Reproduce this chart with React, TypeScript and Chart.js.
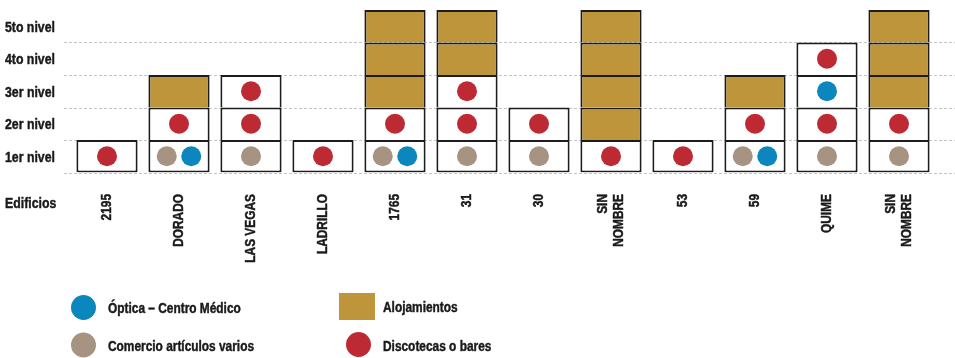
import React, { useEffect, useRef } from 'react';
import { Chart, registerables } from 'chart.js';
Chart.register(...registerables);

// ---------- DATA ----------
const edificios: (string | string[])[] = [
  '2195', 'DORADO', 'LAS VEGAS', 'LADRILLO', '1765', '31', '30',
  ['SIN', 'NOMBRE'], '53', '59', 'QUIME', ['SIN', 'NOMBRE'],
];
const nivelLabels = ['1er nivel', '2er nivel', '3er nivel', '4to nivel', '5to nivel'];
// number of floors per building
const pisos = [1, 3, 3, 1, 5, 5, 2, 5, 1, 3, 4, 5];
// floors holding each use
const alojamientos: number[][] = [[], [3], [], [], [3, 4, 5], [4, 5], [], [2, 3, 4, 5], [], [3], [], [3, 4, 5]];
const discotecas: number[][] = [[1], [2], [2, 3], [1], [2], [2, 3], [2], [1], [1], [2], [2, 4], [2]];
const comercio: number[][] = [[], [1], [1], [], [1], [1], [1], [], [], [1], [1], [1]];
const optica: number[][] = [[], [1], [], [], [1], [], [], [], [], [1], [3], []];

const legendOptica = 'Óptica – Centro Médico';
const legendComercio = 'Comercio artículos varios';
const legendAloj = 'Alojamientos';
const legendDisco = 'Discotecas o bares';
const axisTitle = 'Edificios';

// ---------- STYLE ----------
const GOLD = '#BE953B';
const RED = '#BE2A33';
const BLUE = '#0B87BD';
const GREY = '#A69381';
const BORDER = '#1c1c1c';
const TEXT = '#1a1a1a';
const FONT = '"Liberation Sans", Arial, sans-serif';
const NARROW = 0.82; // horizontal condensing to mimic a narrow typeface
const PAIR = 0.17;

function dotData(levels: number[][], other: number[][] | null, sign: number) {
  const out: { x: number; y: number }[] = [];
  levels.forEach((lv, i) => {
    lv.forEach((L) => {
      const shared = !!other && (other[i] || []).includes(L);
      out.push({ x: i + (shared ? sign * PAIR : 0), y: L - 0.5 });
    });
  });
  return out;
}

function drawTxt(ctx: CanvasRenderingContext2D, text: string) {
  ctx.fillText(text, 0, 0);
  ctx.strokeText(text, 0, 0);
}

function narrowText(ctx: CanvasRenderingContext2D, text: string, x: number, y: number) {
  ctx.save();
  ctx.translate(x, y);
  ctx.scale(NARROW, 1);
  drawTxt(ctx, text);
  ctx.restore();
}

const overlayPlugin = {
  id: 'overlay',
  beforeDatasetsDraw(chart: any) {
    const { ctx, scales } = chart;
    const y = scales.y;
    ctx.save();
    ctx.strokeStyle = '#c4c4c4';
    ctx.lineWidth = 1;
    ctx.setLineDash([3, 2]);
    for (let v = 0; v <= 4; v++) {
      const py = Math.round(y.getPixelForValue(v)) + 0.5;
      ctx.beginPath();
      ctx.moveTo(chart.chartArea.left - 7, py);
      ctx.lineTo(chart.width, py);
      ctx.stroke();
    }
    ctx.restore();
  },
  afterDraw(chart: any) {
    const { ctx, scales } = chart;
    const xs = scales.x;
    const ys = scales.y;
    ctx.save();
    ctx.fillStyle = TEXT;
    ctx.strokeStyle = TEXT;
    ctx.lineWidth = 0.45;
    ctx.lineJoin = 'round';
    ctx.textBaseline = 'middle';
    ctx.textAlign = 'left';

    // y-axis level labels
    ctx.font = `bold 15px ${FONT}`;
    nivelLabels.forEach((lab, k) => {
      narrowText(ctx, lab, 5, ys.getPixelForValue(k + 0.5) + 1.5);
    });
    // axis title
    narrowText(ctx, axisTitle, 5, 204);

    // x-axis building labels (rotated)
    ctx.font = `bold 14.5px ${FONT}`;
    const lh = 16;
    edificios.forEach((lab, i) => {
      const lines = Array.isArray(lab) ? lab : [lab];
      const px = xs.getPixelForValue(i);
      lines.forEach((ln, j) => {
        const cx = px + (j - (lines.length - 1) / 2) * lh;
        ctx.save();
        ctx.translate(cx, 194);
        ctx.rotate(-Math.PI / 2);
        ctx.scale(NARROW, 1);
        ctx.textAlign = 'right';
        drawTxt(ctx, ln);
        ctx.restore();
      });
    });

    // legend
    const circle = (cx: number, cy: number, c: string) => {
      ctx.beginPath();
      ctx.arc(cx, cy, 12.5, 0, Math.PI * 2);
      ctx.fillStyle = c;
      ctx.fill();
    };
    circle(83.5, 307.5, BLUE);
    circle(83.5, 345, GREY);
    circle(358.5, 344.5, RED);
    ctx.fillStyle = GOLD;
    ctx.fillRect(339, 293, 36, 27);

    ctx.fillStyle = TEXT;
    ctx.font = `bold 14.5px ${FONT}`;
    narrowText(ctx, legendOptica, 108, 309);
    narrowText(ctx, legendComercio, 108, 347);
    narrowText(ctx, legendAloj, 383, 308);
    narrowText(ctx, legendDisco, 383, 346.5);
    ctx.restore();
  },
};

export default function App() {
  const ref = useRef<HTMLCanvasElement | null>(null);
  useEffect(() => {
    document.body.style.margin = '0';
    if (!ref.current) return;

    const barSets = [1, 2, 3, 4, 5].map((L) => ({
      type: 'bar' as const,
      label: `Nivel ${L}`,
      data: pisos.map((p) => (p >= L ? [L - 1, L] : null)),
      backgroundColor: pisos.map((_, i) => (alojamientos[i].includes(L) ? GOLD : '#ffffff')),
      borderColor: BORDER,
      borderWidth: 2,
      borderSkipped: L === 1 ? false : 'bottom',
      grouped: false,
      inflateAmount: 0,
      barPercentage: 0.85,
      categoryPercentage: 1,
      order: 2,
      xAxisID: 'x',
      yAxisID: 'y',
    }));

    const mk = (label: string, data: any[], color: string) => ({
      type: 'scatter' as const,
      label,
      data,
      pointRadius: 10,
      pointHoverRadius: 10,
      pointBackgroundColor: color,
      pointBorderWidth: 0,
      borderWidth: 0,
      showLine: false,
      order: 1,
      xAxisID: 'xd',
      yAxisID: 'y',
    });

    const chart = new Chart(ref.current, {
      data: {
        labels: edificios,
        datasets: [
          ...barSets,
          mk(legendDisco, dotData(discotecas, null, 0), RED),
          mk(legendComercio, dotData(comercio, optica, -1), GREY),
          mk(legendOptica, dotData(optica, comercio, 1), BLUE),
        ] as any,
      },
      options: {
        animation: false,
        responsive: false,
        events: [],
        layout: { padding: { top: 6, left: 71, right: 20, bottom: 185.5 } },
        plugins: { legend: { display: false }, tooltip: { enabled: false } },
        scales: {
          x: { type: 'category', offset: true, display: false },
          xd: { type: 'linear', display: false, min: -0.5, max: 11.5 },
          y: { type: 'linear', display: false, min: 0, max: 5 },
        },
      } as any,
      plugins: [overlayPlugin],
    });
    return () => chart.destroy();
  }, []);

  return (
    <div style={{ position: 'fixed', left: 0, top: 0, width: 955, height: 358, background: '#fff' }}>
      <canvas ref={ref} width={955} height={358} style={{ width: 955, height: 358 }} />
    </div>
  );
}
